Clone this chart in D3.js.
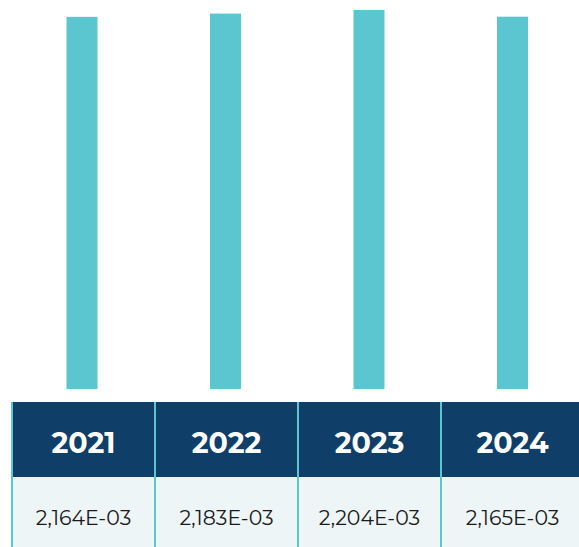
<!DOCTYPE html>
<html><head><meta charset="utf-8">
<script src="https://cdn.jsdelivr.net/npm/d3@7"></script>
<style>html,body{margin:0;padding:0;background:#fff;overflow:hidden}</style>
</head><body>
<script>
const years = ["2021","2022","2023","2024"];
const values = [2.164e-3, 2.183e-3, 2.204e-3, 2.165e-3];

const W = 579, H = 547;
const svg = d3.select("body").append("svg").attr("width", W).attr("height", H);

const tableLeft = 12, tableRight = 584;
const x = d3.scaleBand().domain(years).range([tableLeft, tableRight]).padding(0);
const xb = d3.scalePoint().domain(years).range([82, 512.5]);
const barBottom = 389;
const y = d3.scaleLinear().domain([0, 2.262e-3]).range([barBottom, 0]);
const barW = 31;

svg.selectAll("rect.bar").data(years).join("rect").attr("class","bar")
  .attr("x", d => xb(d) - barW/2)
  .attr("width", barW)
  .attr("y", (d,i) => y(values[i]))
  .attr("height", (d,i) => barBottom - y(values[i]))
  .attr("fill", "#5bc6d0");

const headTop = 402, headBot = 477;
svg.selectAll("rect.head").data(years).join("rect").attr("class","head")
  .attr("x", d => x(d)).attr("width", x.bandwidth())
  .attr("y", headTop).attr("height", headBot - headTop).attr("fill", "#0f3f69");
svg.selectAll("rect.body").data(years).join("rect").attr("class","body")
  .attr("x", d => x(d)).attr("width", x.bandwidth())
  .attr("y", headBot).attr("height", H - headBot).attr("fill", "#edf5f7");

svg.selectAll("line.div").data(years).join("line").attr("class","div")
  .attr("x1", d => x(d)).attr("x2", d => x(d))
  .attr("y1", headTop).attr("y2", H)
  .attr("stroke", "#5bc6d0").attr("stroke-width", 2);

const fmt = v => {
  const s = v.toExponential(3);
  const [m, e] = s.split("e");
  const ex = parseInt(e, 10);
  const es = (ex < 0 ? "-" : "+") + String(Math.abs(ex)).padStart(2, "0");
  return m.replace(".", ",") + "E" + es;
};

const font = "Montserrat, Inter, 'Noto Sans', sans-serif";
svg.selectAll("text.yr").data(years).join("text").attr("class","yr")
  .attr("x", d => x(d) + x.bandwidth()/2).attr("y", 453)
  .attr("text-anchor","middle").attr("fill","#fff")
  .attr("font-family", font).attr("font-weight", 700).attr("font-size", 28.5)
  .text(d => d);
svg.selectAll("text.val").data(years).join("text").attr("class","val")
  .attr("x", d => x(d) + x.bandwidth()/2).attr("y", 525)
  .attr("text-anchor","middle").attr("fill","#1a1a1a")
  .attr("font-family", font).attr("font-weight", 400).attr("font-size", 20.5)
  .text((d,i) => fmt(values[i]));
</script>
</body></html>
